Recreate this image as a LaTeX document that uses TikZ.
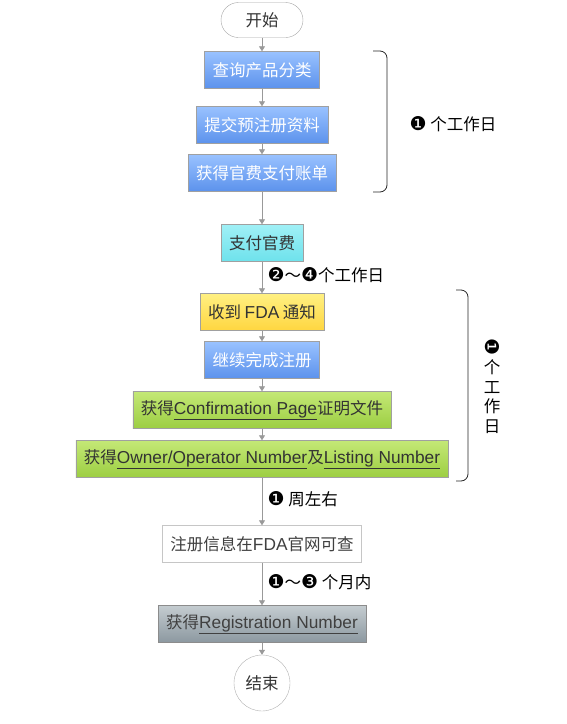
\documentclass[tikz,border=0pt]{standalone}
\usepackage{fontspec}
\setmainfont{Noto Sans CJK SC}
\newfontfamily\dingfont{DejaVu Sans}
\newfontfamily\latfont{Liberation Sans}
\usetikzlibrary{arrows.meta}

\definecolor{flowgray}{HTML}{999999}
\definecolor{txtdark}{HTML}{333333}
\definecolor{boxedge}{HTML}{A0A0A0}
\newcommand{\dnum}[1]{{\dingfont\fontsize{19}{19}\selectfont #1}}
\newcommand{\lat}[1]{{\latfont\fontsize{17.3}{19}\selectfont #1}}

\begin{document}
\begin{tikzpicture}[x=1pt, y=-1pt,
    every node/.style={font=\fontsize{16.5}{19}\selectfont, text=txtdark},
    stepnode/.style={rectangle, draw=boxedge, minimum height=37pt, inner xsep=8pt, inner ysep=2pt},
    bluebox/.style={stepnode, top color=blue!20!cyan!25!white!80!blue, bottom color={rgb,255:red,92;green,146;blue,236}, text=white},
    cyanbox/.style={stepnode, top color={rgb,255:red,160;green,240;blue,246}, bottom color={rgb,255:red,110;green,226;blue,236}},
    yellowbox/.style={stepnode, top color={rgb,255:red,255;green,240;blue,130}, bottom color={rgb,255:red,255;green,214;blue,64}},
    greenbox/.style={stepnode, top color={rgb,255:red,196;green,232;blue,118}, bottom color={rgb,255:red,156;green,206;blue,66}},
    whitebox/.style={stepnode, draw=gray!45, fill=white, text=black!75},
    graybox/.style={stepnode, draw=gray!90, top color={rgb,255:red,196;green,204;blue,208}, bottom color={rgb,255:red,140;green,152;blue,160}, text=black!75},
    terminal/.style={rectangle, rounded corners=17.5pt, draw=gray!70, fill=white, minimum width=82pt, minimum height=35pt, text=black!80},
    endnode/.style={circle, draw=gray!60, fill=white, minimum size=56pt, inner sep=0pt, text=black!80},
    flow/.style={draw=flowgray, line width=0.8pt, -{Triangle[width=6pt, length=5pt]}},
    brace/.style={draw=black!85, line width=0.8pt, rounded corners=7pt},
    lbl/.style={anchor=west, text=black}
]
  \useasboundingbox (0,0) rectangle (566,724);
  % Step nodes
  \node[terminal] (start) at (262,20) {开始};
  \node[bluebox] (s1) at (262,70) {查询产品分类};
  \node[bluebox] (s2) at (262,125) {提交预注册资料};
  \node[bluebox] (s3) at (262,173) {获得官费支付账单};
  \node[cyanbox] (s4) at (262,243) {支付官费};
  \node[yellowbox] (s5) at (262,312) {收到 \lat{FDA} 通知};
  \node[bluebox] (s6) at (262,360) {继续完成注册};
  \node[greenbox] (s7) at (262,410) {获得\lat{\underline{Confirmation Page}}证明文件};
  \node[greenbox] (s8) at (262,459) {获得\lat{\underline{Owner/Operator Number}}及\lat{\underline{Listing Number}}};
  \node[whitebox] (s9) at (262,544) {注册信息在\lat{FDA}官网可查};
  \node[graybox] (s10) at (262,624) {获得\lat{\underline{Registration Number}}};
  \node[endnode] (stop) at (262,683) {结束};
  % Connectors
  \draw[flow] (start) -- (s1);
  \draw[flow] (s1) -- (s2);
  \draw[flow] (s2) -- (s3);
  \draw[flow] (s3) -- (s4);
  \draw[flow] (s4) -- (s5);
  \draw[flow] (s5) -- (s6);
  \draw[flow] (s6) -- (s7);
  \draw[flow] (s7) -- (s8);
  \draw[flow] (s8) -- (s9);
  \draw[flow] (s9) -- (s10);
  \draw[flow] (s10) -- (stop);
  % Time labels
  \node[lbl] (t1) at (264,275) {\dnum{❷}～\dnum{❹}个工作日};
  \node[lbl] (t2) at (264,499) {\dnum{❶} 周左右};
  \node[lbl] (t3) at (264,582) {\dnum{❶}～\dnum{❸} 个月内};
  % Braces
  \draw[brace] (373,51) -- (387,51) -- (387,192) -- (373,192);
  \node[lbl] (b1) at (406,124) {\dnum{❶} 个工作日};
  \draw[brace] (456,290) -- (468,290) -- (468,481) -- (456,481);
  \node[text=black, align=center, font=\fontsize{16.5}{19.5}\selectfont] (b2) at (492,386)
    {\rotatebox[origin=c]{-90}{\dnum{❶}}\\个\\工\\作\\日};
\end{tikzpicture}
\end{document}
